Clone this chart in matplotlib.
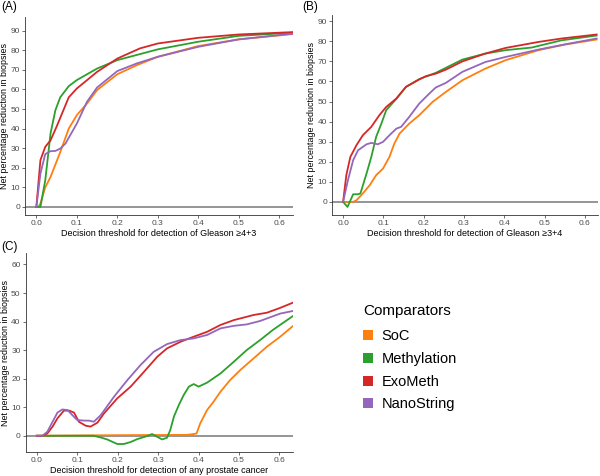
import matplotlib
matplotlib.use("Agg")
import matplotlib.pyplot as plt
from matplotlib.patches import Patch

plt.rcParams['font.family'] = ['Liberation Sans', 'DejaVu Sans']

names = ["SoC", "Methylation", "ExoMeth", "NanoString"]
colors = ["#ff7f0e", "#2ca02c", "#d62728", "#9467bd"]

# ---- panel A: Gleason >=4+3
a_soc_x = [0.0, 0.005, 0.01, 0.022, 0.035, 0.059, 0.08, 0.1, 0.125, 0.15, 0.2, 0.248, 0.3, 0.4, 0.5, 0.633]
a_soc_y = [0, 0, 1.7, 10, 15.3, 28, 40, 46.9, 52.8, 59.7, 67.8, 72.4, 76.7, 82.2, 85.6, 88.3]
a_met_x = [0.0, 0.01, 0.022, 0.035, 0.047, 0.059, 0.08, 0.1, 0.15, 0.2, 0.3, 0.4, 0.5, 0.633]
a_met_y = [0, 0, 13.6, 37.5, 49.4, 56, 61.7, 64.8, 70.7, 75, 80.5, 84.4, 87.4, 89]
a_exo_x = [0.0, 0.01, 0.022, 0.035, 0.05, 0.08, 0.1, 0.15, 0.2, 0.256, 0.3, 0.4, 0.5, 0.633]
a_exo_y = [0, 23.9, 30.7, 34, 41, 56, 60.5, 69, 75.8, 81, 83.5, 86.4, 88.1, 89.3]
a_nano_x = [0.0, 0.01, 0.022, 0.035, 0.047, 0.059, 0.072, 0.1, 0.125, 0.15, 0.2, 0.248, 0.3, 0.4, 0.5, 0.633]
a_nano_y = [0, 17, 27, 28.5, 28.6, 29.8, 32.4, 42.6, 53.7, 61, 69.4, 73.3, 76.7, 81.8, 85.6, 88.5]

# ---- panel B: Gleason >=3+4
b_soc_x = [0.0, 0.025, 0.033, 0.049, 0.066, 0.082, 0.099, 0.115, 0.127, 0.14, 0.164, 0.189, 0.222, 0.255, 0.296, 0.353, 0.403, 0.485, 0.551, 0.629]
b_soc_y = [0, 0, 0.8, 4.2, 8.3, 13.3, 16.6, 22.4, 29, 34, 39, 43.2, 49.8, 54.8, 60.6, 66.4, 70.6, 75.6, 78.4, 80.9]
b_met_x = [0.0, 0.011, 0.025, 0.037, 0.043, 0.058, 0.07, 0.082, 0.095, 0.107, 0.132, 0.156, 0.189, 0.23, 0.296, 0.353, 0.403, 0.468, 0.542, 0.629]
b_met_y = [0, -2.5, 3.8, 3.8, 4.2, 14, 22.4, 32.4, 39, 45.7, 51.3, 57.3, 61.2, 64.3, 70.9, 73.9, 75.6, 76.9, 80.5, 82.9]
b_exo_x = [0.0, 0.008, 0.018, 0.033, 0.049, 0.07, 0.09, 0.107, 0.132, 0.156, 0.189, 0.205, 0.23, 0.255, 0.296, 0.353, 0.403, 0.485, 0.542, 0.629]
b_exo_y = [0, 13.3, 22.4, 28.2, 33.2, 37.4, 43.2, 47.3, 51.5, 57.3, 61, 62.6, 63.9, 65.9, 70, 73.9, 76.7, 79.7, 81.4, 83.4]
b_nano_x = [0.0, 0.012, 0.025, 0.037, 0.058, 0.07, 0.086, 0.099, 0.115, 0.132, 0.144, 0.164, 0.189, 0.214, 0.23, 0.255, 0.296, 0.353, 0.403, 0.485, 0.551, 0.629]
b_nano_y = [0, 10.8, 20.8, 25.7, 28.7, 29.4, 28.7, 29.9, 33.2, 36.5, 37.4, 42.3, 49, 54, 57, 59.3, 64.8, 69.7, 72.2, 75.9, 78.5, 81.4]

# ---- panel C: any prostate cancer
c_soc_x = [0.0, 0.2, 0.371, 0.388, 0.395, 0.404, 0.421, 0.437, 0.454, 0.478, 0.503, 0.536, 0.569, 0.602, 0.633]
c_soc_y = [0, 0.2, 0.3, 0.6, 0.8, 4.3, 9.0, 11.9, 15.4, 19.5, 23, 27.1, 31.2, 34.7, 38.4]
c_met_x = [0.0, 0.14, 0.158, 0.174, 0.199, 0.215, 0.232, 0.248, 0.273, 0.285, 0.298, 0.31, 0.322, 0.33, 0.339, 0.351, 0.363, 0.376, 0.388, 0.4, 0.421, 0.454, 0.487, 0.519, 0.552, 0.585, 0.633]
c_met_y = [0, 0, -0.6, -1.3, -2.9, -2.9, -2.2, -1.2, -0.1, 0.6, -0.4, -1.3, -0.7, 2, 6.7, 10.7, 14.2, 17.2, 18.1, 17.2, 18.6, 21.8, 25.9, 30, 33.5, 37.2, 41.9]
c_exo_x = [0.0, 0.014, 0.026, 0.039, 0.051, 0.067, 0.08, 0.092, 0.104, 0.121, 0.133, 0.15, 0.166, 0.199, 0.232, 0.265, 0.298, 0.322, 0.355, 0.388, 0.421, 0.454, 0.487, 0.536, 0.569, 0.602, 0.633]
c_exo_y = [0, 0, 0.8, 3.2, 6.1, 8.8, 8.8, 8.1, 4.9, 3.5, 3.2, 4.6, 7.8, 13.1, 17.2, 22.4, 27.7, 30.6, 32.9, 34.7, 36.4, 38.8, 40.5, 42.3, 43.1, 44.8, 46.6]
c_nano_x = [0.0, 0.014, 0.026, 0.039, 0.051, 0.063, 0.076, 0.088, 0.1, 0.117, 0.129, 0.141, 0.158, 0.191, 0.224, 0.256, 0.289, 0.322, 0.355, 0.388, 0.421, 0.454, 0.487, 0.519, 0.552, 0.602, 0.633]
c_nano_y = [0, 0, 1.4, 4.9, 8.1, 9.2, 9.0, 7.2, 5.5, 5.3, 5.3, 4.9, 7.2, 13.7, 19.5, 24.7, 29.4, 32.1, 33.5, 34.1, 35.3, 37.6, 38.5, 39.0, 40.2, 42.8, 43.7]

x_ticks = [0.0, 0.1, 0.2, 0.3, 0.4, 0.5, 0.6]

fig = plt.figure(figsize=(6, 4.76), dpi=100)


def panel(rect, series, xlabel, ylim, yticks, tag, tag_xy):
    ax = fig.add_axes(rect)
    ax.axhline(0, color="#8c8c8c", lw=1.3, zorder=1)
    for (xs, ys), c in zip(series, colors):
        ax.plot(xs, ys, color=c, lw=1.3, zorder=2)
    ax.set_xlim(-0.028, 0.633)
    ax.set_ylim(*ylim)
    ax.set_xticks(x_ticks)
    ax.set_xticklabels([f"{t:.1f}" for t in x_ticks])
    ax.set_yticks(yticks)
    ax.tick_params(labelsize=6, colors="#333333", length=2, width=0.5, pad=1.5,
                   labelcolor="#4d4d4d")
    for s in ["top", "right"]:
        ax.spines[s].set_visible(False)
    for s in ["left", "bottom"]:
        ax.spines[s].set_linewidth(0.6)
        ax.spines[s].set_color("#333333")
    ax.set_xlabel(xlabel, fontsize=6.5, labelpad=1.5)
    ax.set_ylabel("Net percentage reduction in biopsies", fontsize=6.4, labelpad=1)
    fig.text(tag_xy[0] / 600, 1 - tag_xy[1] / 476, tag, fontsize=8.5, va="top", ha="left")
    return ax


panel([0.0417, 0.548, 0.446, 0.417],
      [(a_soc_x, a_soc_y), (a_met_x, a_met_y), (a_exo_x, a_exo_y), (a_nano_x, a_nano_y)],
      "Decision threshold for detection of Gleason \u22654+3", (-4.2, 97.2),
      range(0, 91, 10), "(A)", (1, 1))
panel([0.553, 0.548, 0.444, 0.420],
      [(b_soc_x, b_soc_y), (b_met_x, b_met_y), (b_exo_x, b_exo_y), (b_nano_x, b_nano_y)],
      "Decision threshold for detection of Gleason \u22653+4", (-6.6, 93),
      range(0, 91, 10), "(B)", (302, 1))
panel([0.0425, 0.0498, 0.4455, 0.418],
      [(c_soc_x, c_soc_y), (c_met_x, c_met_y), (c_exo_x, c_exo_y), (c_nano_x, c_nano_y)],
      "Decision threshold for detection of any prostate cancer", (-5.8, 63.9),
      range(0, 61, 10), "(C)", (1, 241))

handles = [Patch(facecolor=c, edgecolor="none") for c in colors]
leg = fig.legend(handles, names, title="Comparators", loc="upper left",
                 bbox_to_anchor=(350 / 600, 1 - 291 / 476), frameon=False,
                 fontsize=10.5, title_fontsize=11, handlelength=0.7, handleheight=0.7,
                 handletextpad=0.55, labelspacing=0.6, alignment="left")
leg._legend_box.sep = 8

fig.savefig("out.png", dpi=100)
